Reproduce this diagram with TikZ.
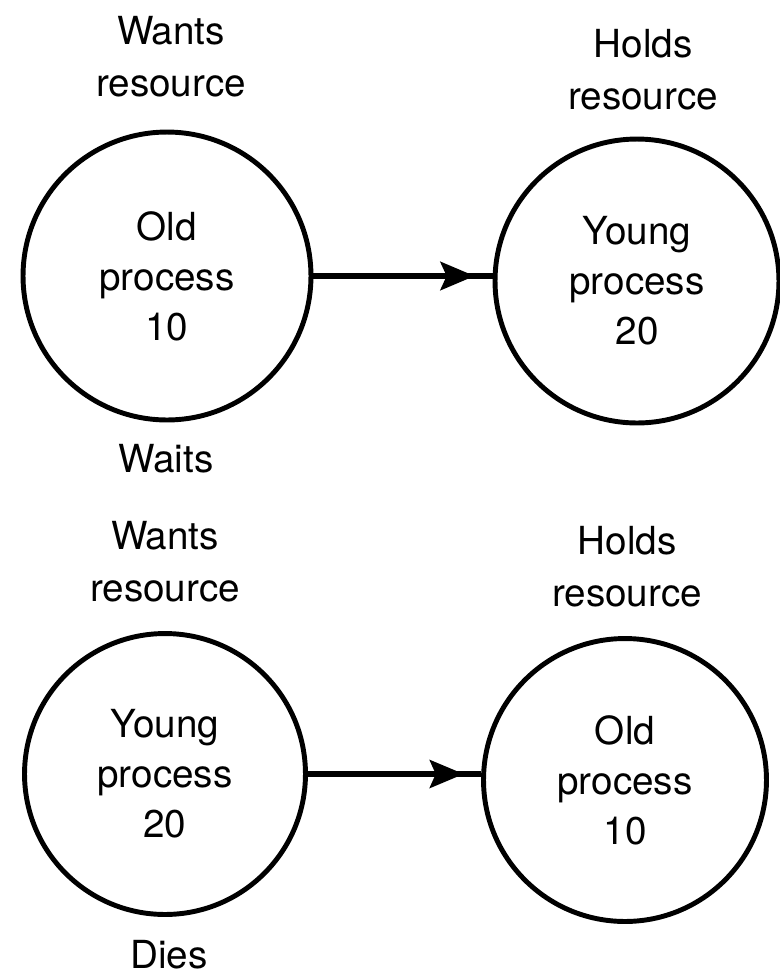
\documentclass[tikz,border=0pt]{standalone}
\usepackage{fontspec}
\setmainfont{TeX Gyre Heros}
\usetikzlibrary{arrows.meta,decorations.markings}

\begin{document}
\begin{tikzpicture}[x=0.02cm, y=-0.02cm,
  proc/.style={draw, circle, line width=2.8pt, inner sep=0pt, align=center,
    font=\fontsize{22}{28.5}\selectfont},
  lbl/.style={align=center, inner sep=0pt, font=\fontsize{22}{29.5}\selectfont},
  waitline/.style={line width=3.6pt, postaction={decorate},
    decoration={markings, mark=at position 0.9 with
      {\arrow{Stealth[length=0.68cm, width=0.56cm, inset=0.12cm]}}}}]
\useasboundingbox (0,0) rectangle (779,975);
% older process waits for the younger one
\node[lbl] (wants1) at (171,57) {Wants\\resource};
\node[lbl] (holds1) at (643,70) {Holds\\resource};
\node[proc, minimum size=5.76cm] (old1) at (167,276) {Old\\process\\10};
\node[proc, minimum size=5.68cm] (young1) at (637,281) {Young\\process\\20};
\node[lbl] (waits) at (166,459) {Waits};
\draw[waitline] (old1.east) -- (old1.east -| young1.west);
% younger process dies
\node[lbl] (wants2) at (165,562) {Wants\\resource};
\node[lbl] (holds2) at (627,567) {Holds\\resource};
\node[proc, minimum size=5.62cm] (young2) at (165,774) {Young\\process\\20};
\node[proc, minimum size=5.66cm] (old2) at (625,780) {Old\\process\\10};
\node[lbl] (dies) at (169,955) {Dies};
\draw[waitline, line width=2.9pt] (young2.east) -- (young2.east -| old2.west);
\end{tikzpicture}
\end{document}
